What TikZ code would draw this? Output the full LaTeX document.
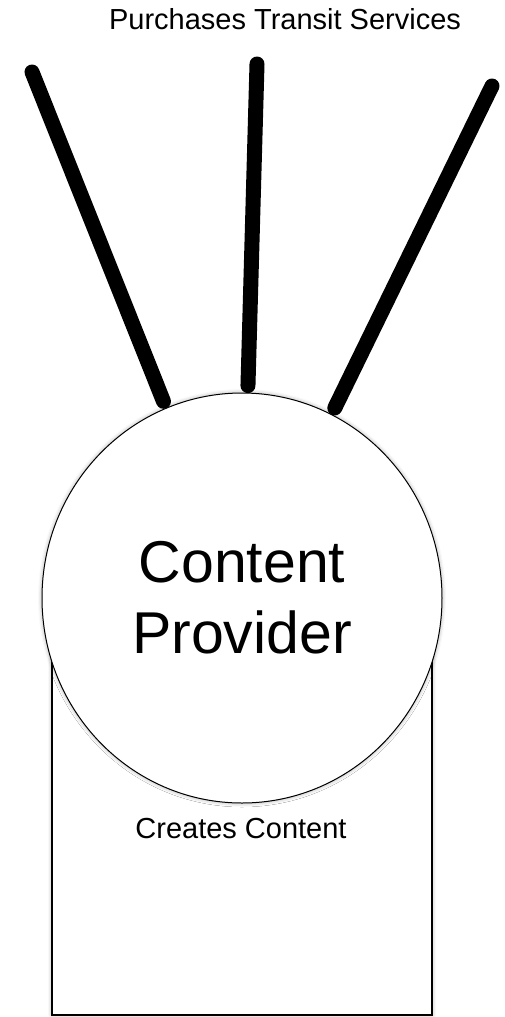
\documentclass[tikz,border=0pt]{standalone}
\usepackage{fontspec}
\setmainfont{Liberation Sans}
\usetikzlibrary{shapes.geometric,shadows.blur}
\begin{document}
\begin{tikzpicture}[x=1pt,y=-1pt,
  softshadow/.style={blur shadow={shadow xshift=0pt,shadow yshift=0pt,shadow blur radius=4pt,shadow opacity=35}},
  boxstyle/.style={draw=black,line width=1.5pt,fill=white,minimum width=380pt,minimum height=415pt,inner sep=0pt,softshadow},
  ballstyle/.style={ellipse,draw=black,line width=1pt,fill=white,minimum width=400pt,minimum height=410pt,inner sep=0pt,softshadow,align=center,font=\fontsize{59}{71}\selectfont},
  labelstyle/.style={font=\fontsize{29}{34}\selectfont,inner sep=0pt},
  linkstyle/.style={line width=15pt,line cap=round,shorten >=7pt}]
\useasboundingbox (0,0) rectangle (504,1017);
\node[boxstyle] (box) at (242,807.5) {};
\node[ballstyle] (cp) at (242,598) {Content\\Provider};
\node[labelstyle] (cc) at (241,829) {Creates Content};
\node[labelstyle] (pts) at (285,19) {Purchases Transit Services};
\coordinate (t1) at (32,72);
\coordinate (t2) at (257,64);
\coordinate (t3) at (492,86);
\draw[linkstyle] (t1) -- (cp);
\draw[linkstyle] (t2) -- (cp);
\draw[linkstyle] (t3) -- (cp);
\end{tikzpicture}
\end{document}
